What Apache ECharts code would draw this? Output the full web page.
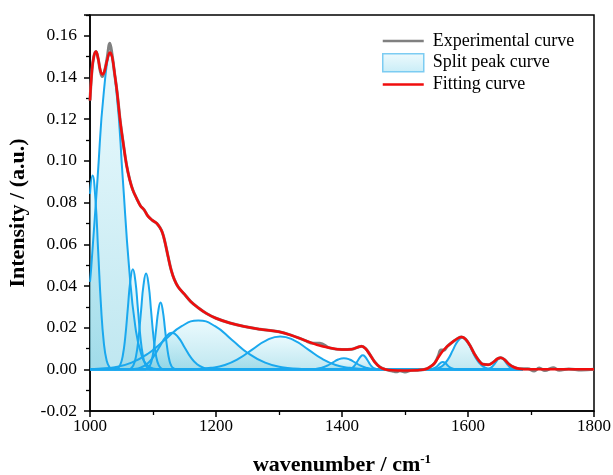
<!DOCTYPE html>
<html>
<head>
<meta charset="utf-8">
<script src="https://cdn.jsdelivr.net/npm/echarts@6/dist/echarts.min.js"></script>
<style>html,body{margin:0;padding:0;background:#fff}#c{width:613px;height:475px}</style>
</head>
<body>
<div id="c"></div>
<script>
// ---- data ----
const legendNames = ['Experimental curve', 'Split peak curve', 'Fitting curve'];

const experimental = [[1000,0.129],[1003,0.143],[1006,0.150],[1009.5,0.1525],[1013,0.149],[1016,0.1435],[1019.5,0.1405],[1023,0.143],[1027,0.149],[1031.5,0.1565],[1035,0.151],[1039,0.142],[1043,0.133],[1048,0.119],[1053,0.108],[1058,0.098],[1063,0.091],[1068,0.086],[1074,0.082],[1080,0.0785],[1086,0.0765],[1092,0.0735],[1099,0.0715],[1106,0.070],[1111,0.068],[1115,0.0655],[1119,0.061],[1124,0.054],[1129,0.0475],[1134,0.043],[1140,0.0395],[1150,0.036],[1160,0.0325],[1172,0.0295],[1185,0.0268],[1200,0.0245],[1222,0.0222],[1245,0.0205],[1270,0.0192],[1300,0.0180],[1320,0.0163],[1340,0.0140],[1355,0.0125],[1365,0.0125],[1380,0.0103],[1400,0.0095],[1415,0.0096],[1425,0.0106],[1431,0.0111],[1437,0.0101],[1444,0.0072],[1452,0.0035],[1460,0.0011],[1468,0.0],[1480,-0.0008],[1486,-0.0012],[1492,-0.0007],[1500,-0.0013],[1510,-0.0005],[1520,-0.0004],[1532,0.0],[1540,0.0012],[1547,0.003],[1553,0.0065],[1557,0.0093],[1562,0.0092],[1567,0.011],[1576,0.0132],[1584,0.0149],[1590,0.0155],[1596,0.0145],[1603,0.0115],[1610,0.0075],[1617,0.0043],[1624,0.0024],[1632,0.0022],[1640,0.0034],[1647,0.0051],[1652,0.0056],[1658,0.0046],[1665,0.0025],[1673,0.001],[1682,0.0003],[1695,0.0003],[1705,-0.0008],[1713,0.0006],[1722,-0.0006],[1735,0.0008],[1745,-0.0004],[1760,0.0002],[1780,-0.0003],[1800,0]];

const fitting = [[1000,0.129],[1003,0.143],[1006,0.150],[1009.5,0.1525],[1013,0.149],[1016,0.144],[1019.5,0.1415],[1023,0.143],[1027,0.148],[1031.5,0.152],[1035,0.150],[1039,0.142],[1043,0.133],[1048,0.119],[1053,0.108],[1058,0.098],[1063,0.091],[1068,0.086],[1074,0.082],[1080,0.0785],[1086,0.0765],[1092,0.0735],[1099,0.0715],[1106,0.070],[1111,0.068],[1115,0.0655],[1119,0.061],[1124,0.054],[1129,0.0475],[1134,0.043],[1140,0.0395],[1150,0.036],[1160,0.0325],[1172,0.0295],[1185,0.0268],[1200,0.0245],[1222,0.0222],[1245,0.0205],[1270,0.0192],[1300,0.0180],[1320,0.0163],[1340,0.0140],[1360,0.0118],[1380,0.0103],[1400,0.0095],[1415,0.0096],[1425,0.0106],[1431,0.0111],[1437,0.0101],[1444,0.0072],[1452,0.0035],[1460,0.0011],[1468,0.0],[1480,-0.0005],[1500,-0.0006],[1520,-0.0004],[1532,0.0],[1540,0.0012],[1547,0.003],[1553,0.0058],[1560,0.0088],[1567,0.011],[1576,0.0132],[1584,0.0149],[1590,0.0155],[1596,0.0145],[1603,0.0115],[1610,0.0075],[1617,0.0043],[1624,0.0024],[1632,0.0022],[1640,0.0034],[1647,0.0051],[1652,0.0056],[1658,0.0046],[1665,0.0025],[1673,0.001],[1682,0.0003],[1695,0],[1720,0],[1800,0]];

const peak1004 = [[1000,0.0842],[1004,0.093],[1008.5,0.0821],[1013,0.0564],[1017.5,0.0302],[1022,0.0126],[1026.5,0.0041],[1031,0.001],[1035,0.0002],[1040,0],[1687,0]];
const peak1032 = [[1000,0.042],[1002,0.049],[1012,0.0916],[1022,0.1333],[1032,0.151],[1042,0.1333],[1052,0.0916],[1062,0.049],[1072,0.0204],[1082,0.0066],[1092,0.0017],[1102,0.0003],[1112,0],[1687,0]];
const peak1068 = [[1000,0],[1040,0],[1044,0.0005],[1048,0.0021],[1052,0.0065],[1056,0.0156],[1060,0.0291],[1064,0.0424],[1068,0.048],[1072,0.0424],[1076,0.0291],[1080,0.0156],[1084,0.0065],[1088,0.0021],[1092,0.0005],[1096,0],[1687,0]];
const peak1089 = [[1000,0],[1061,0],[1065,0.0005],[1069,0.002],[1073,0.0062],[1077,0.0149],[1081,0.0279],[1085,0.0406],[1089,0.046],[1093,0.0406],[1097,0.0279],[1101,0.0149],[1105,0.0062],[1109,0.002],[1113,0.0005],[1117,0],[1687,0]];
const peak1112 = [[1000,0],[1087.5,0],[1091,0.0004],[1094.5,0.0014],[1098,0.0043],[1101.5,0.0104],[1105,0.0194],[1108.5,0.0282],[1112,0.032],[1115.5,0.0282],[1119,0.0194],[1122.5,0.0104],[1126,0.0043],[1129.5,0.0014],[1133,0.0004],[1137,0],[1687,0]];
const peak1130 = [[1000,0],[1060,0],[1070,0.0002],[1080,0.0008],[1090,0.0024],[1100,0.0057],[1110,0.0106],[1120,0.0154],[1130,0.0175],[1140,0.0154],[1150,0.0106],[1160,0.0057],[1170,0.0024],[1180,0.0008],[1190,0.0002],[1200,0],[1687,0]];
const peak1172 = [[1000,0],[1013,0.0003],[1039.5,0.001],[1066,0.0032],[1092.5,0.0076],[1119,0.0142],[1145.5,0.0207],[1172,0.0234],[1198.5,0.0207],[1225,0.0142],[1251.5,0.0076],[1278,0.0032],[1304.5,0.001],[1331,0.0003],[1360,0],[1687,0]];
const peak1302 = [[1000,0],[1150,0],[1170,0.0002],[1192,0.0007],[1214,0.0021],[1236,0.0051],[1258,0.0096],[1280,0.0139],[1302,0.0158],[1324,0.0139],[1346,0.0096],[1368,0.0051],[1390,0.0021],[1412,0.0007],[1434,0.0002],[1455,0],[1687,0]];
const peak1403 = [[1000,0],[1340,0],[1349,0.0001],[1358,0.0002],[1367,0.0007],[1376,0.0017],[1385,0.0032],[1394,0.0047],[1403,0.0053],[1412,0.0047],[1421,0.0032],[1430,0.0017],[1439,0.0007],[1448,0.0002],[1457,0.0001],[1466,0],[1687,0]];
const peak1433 = [[1000,0],[1405,0],[1409,0.0001],[1413,0.0003],[1417,0.0009],[1421,0.0022],[1425,0.0041],[1429,0.0059],[1433,0.0067],[1437,0.0059],[1441,0.0041],[1445,0.0022],[1449,0.0009],[1453,0.0003],[1457,0.0001],[1461,0],[1687,0]];
const peak1560 = [[1000,0],[1539,0],[1542.5,0.0002],[1546,0.0005],[1549.5,0.0011],[1553,0.0021],[1556.5,0.0031],[1560,0.0035],[1563.5,0.0031],[1567,0.0021],[1570.5,0.0011],[1574,0.0005],[1577.5,0.0002],[1581,0],[1687,0]];
const peak1591 = [[1000,0],[1538,0],[1546,0.0002],[1553.5,0.0007],[1561,0.0021],[1568.5,0.0049],[1576,0.0092],[1583.5,0.0134],[1591,0.0152],[1598.5,0.0134],[1606,0.0092],[1613.5,0.0049],[1621,0.0021],[1628.5,0.0007],[1636,0.0002],[1644,0],[1687,0]];
const peak1652 = [[1000,0],[1624,0],[1628,0.0001],[1632,0.0002],[1636,0.0007],[1640,0.0018],[1644,0.0033],[1648,0.0049],[1652,0.0055],[1656,0.0049],[1660,0.0033],[1664,0.0018],[1668,0.0007],[1672,0.0002],[1676,0.0001],[1680,0],[1687,0]];

const splitPeaks = [peak1004, peak1032, peak1068, peak1089, peak1112, peak1130, peak1172, peak1302, peak1403, peak1433, peak1560, peak1591, peak1652];

// ---- chart ----
const FONT = "'Liberation Serif','Times New Roman',serif";
const chart = echarts.init(document.getElementById('c'), null, {renderer: 'canvas'});
const LINE_ICON = 'path://M0,0L41,0L41,2.5L0,2.5Z';

const peakSeries = splitPeaks.map(d => ({
  name: legendNames[1],
  type: 'line',
  data: d,
  smooth: 0.5,
  symbol: 'none',
  z: 2,
  lineStyle: {color: '#1aa8ee', width: 2},
  itemStyle: {color: '#1aa8ee'},
  areaStyle: {
    color: new echarts.graphic.LinearGradient(0, 0, 0, 1, [
      {offset: 0, color: 'rgba(214,245,252,0.72)'},
      {offset: 1, color: 'rgba(130,208,226,0.72)'}
    ])
  },
  emphasis: {disabled: true}
}));

const option = {
  animation: false,
  backgroundColor: '#fff',
  grid: {left: 90, top: 15, width: 504, height: 396, show: true, borderColor: '#000', borderWidth: 1.5, backgroundColor: 'transparent', containLabel: false, outerBoundsMode: 'none'},
  legend: {
    orient: 'vertical', left: 382, top: 32, padding: 0, itemWidth: 41, itemHeight: 18, itemGap: 3,
    selectedMode: false,
    textStyle: {fontFamily: FONT, fontSize: 18, color: '#000', padding: [0, 0, 0, 4]},
    data: [
      {name: legendNames[0], icon: LINE_ICON, itemStyle: {color: '#808080'}},
      {name: legendNames[1], icon: 'rect', itemStyle: {color: new echarts.graphic.LinearGradient(0, 0, 0, 1, [{offset: 0, color: '#eefafd'}, {offset: 1, color: '#c9edf7'}]), borderColor: '#7cccf2', borderWidth: 1.5}},
      {name: legendNames[2], icon: LINE_ICON, itemStyle: {color: '#f00d0d'}}
    ]
  },
  xAxis: {
    type: 'value', min: 1000, max: 1800, interval: 200,
    axisLine: {onZero: false, lineStyle: {color: '#000', width: 1.5}},
    axisTick: {length: 6, lineStyle: {color: '#000', width: 1.5}},
    minorTick: {show: true, splitNumber: 2, length: 4, lineStyle: {color: '#000', width: 1.3}},
    splitLine: {show: false},
    axisLabel: {color: '#000', fontFamily: FONT, fontSize: 17, margin: 7, formatter: v => String(v)},
    name: '{a|wavenumber / cm}{b|-1}',
    nameLocation: 'middle', nameGap: 42,
    nameTextStyle: {
      rich: {
        a: {fontFamily: FONT, fontWeight: 'bold', fontSize: 22, color: '#000', lineHeight: 24},
        b: {fontFamily: FONT, fontWeight: 'bold', fontSize: 13, color: '#000', verticalAlign: 'top', lineHeight: 24, padding: [0, 0, 8, 0]}
      }
    }
  },
  yAxis: {
    type: 'value', min: -0.02, max: 0.17, interval: 0.02,
    axisLine: {onZero: false, lineStyle: {color: '#000', width: 1.5}},
    axisTick: {length: 6, lineStyle: {color: '#000', width: 1.5}},
    minorTick: {show: true, splitNumber: 2, length: 4, lineStyle: {color: '#000', width: 1.3}},
    splitLine: {show: false},
    axisLabel: {color: '#000', fontFamily: FONT, fontSize: 17.5, margin: 13, showMaxLabel: false,
      formatter: v => (Math.abs(v) < 1e-9 ? 0 : v).toFixed(2)},
    name: 'Intensity / (a.u.)',
    nameLocation: 'middle', nameGap: 52,
    nameTextStyle: {fontFamily: FONT, fontWeight: 'bold', fontSize: 22, color: '#000'}
  },
  series: [
    ...peakSeries,
    {
      name: legendNames[0], type: 'line', data: experimental, smooth: 0.4, symbol: 'none', z: 3,
      lineStyle: {color: '#808080', width: 3}, itemStyle: {color: '#808080'}, emphasis: {disabled: true}
    },
    {
      name: legendNames[2], type: 'line', data: fitting, smooth: 0.4, symbol: 'none', z: 4,
      lineStyle: {color: '#f00d0d', width: 2.5}, itemStyle: {color: '#f00d0d'}, emphasis: {disabled: true}
    }
  ]
};
chart.setOption(option);
</script>
</body>
</html>
